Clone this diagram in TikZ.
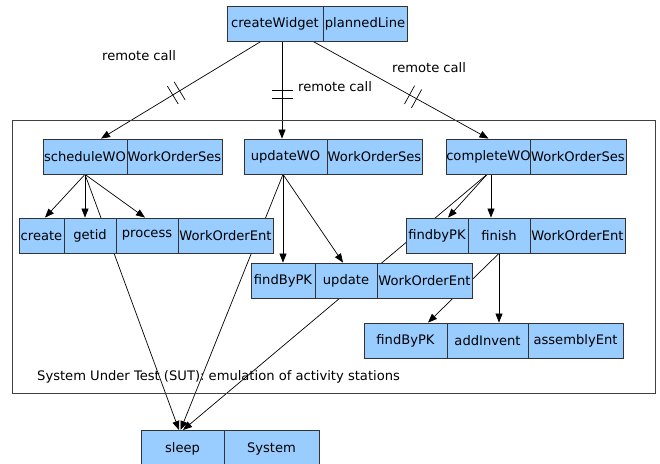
\documentclass[tikz,border=0pt]{standalone}
\usepackage{fontspec}
\setmainfont{DejaVu Sans}
\usetikzlibrary{calc,arrows.meta}
\definecolor{cellblue}{RGB}{153,204,255}
\pgfdeclarelayer{wires}
\pgfsetlayers{wires,main}
% two short strokes across a remote-call line
\newcommand\remoteticks[3]{%
  \coordinate (rt) at ($(#1)!#3!(#2)$);
  \coordinate (rta) at ($(rt)!4pt!(#2)$);
  \coordinate (rtb) at ($(rt)!-4pt!(#2)$);
  \draw[wire] ($(rta)!10.5pt!90:(#2)$) -- ($(rta)!10.5pt!-90:(#2)$);
  \draw[wire] ($(rtb)!10.5pt!90:(#2)$) -- ($(rtb)!10.5pt!-90:(#2)$);}
\begin{document}
\begin{tikzpicture}[x=1pt,y=-1pt,
  font=\fontsize{13.1}{15}\selectfont,
  cell/.style={draw=black!80, fill=cellblue, line width=0.8pt,
    minimum height=35pt, inner sep=0pt, text=black},
  wire/.style={line width=0.7pt, draw=black},
  arr/.style={wire, -{Triangle[length=9pt,width=7pt]}},
  lbl/.style={anchor=west, inner sep=0pt}]
\useasboundingbox (0,0) rectangle (660,463);
\clip (0,0) rectangle (660,463);

% system under test frame
\node[draw=black!75, line width=0.8pt, minimum width=643pt, minimum height=273pt,
  inner sep=0pt, anchor=north west] (sut) at (12,120) {};
\node[lbl] (sutlbl) at (37,377) {System Under Test (SUT): emulation of activity stations};

% caller
\node[cell, minimum width=96pt] (cw) at (275,23.5) {createWidget};
\node[cell, minimum width=84pt] (pl) at (365,23.5) {plannedLine};

% session beans
\node[cell, minimum width=84pt] (swo) at (85,156.5) {scheduleWO};
\node[cell, minimum width=95pt] (sses) at (174.5,156.5) {WorkOrderSes};
\node[cell, minimum width=83pt] (uwo) at (285.5,156.5) {updateWO};
\node[cell, minimum width=95pt] (uses) at (374.5,156.5) {WorkOrderSes};
\node[cell, minimum width=83pt] (cwo) at (488.5,156.5) {completeWO};
\node[cell, minimum width=96pt] (cses) at (578,156.5) {WorkOrderSes};

% entity beans
\node[cell, minimum width=45pt] (create) at (41.5,235.5) {create};
\node[cell, minimum width=52pt] (getid) at (90,235.5) {getid};
\node[cell, minimum width=62pt] (process) at (147,235.5) {process};
\node[cell, minimum width=95pt] (went1) at (225.5,235.5) {WorkOrderEnt};

\node[cell, minimum width=62pt] (fbpk) at (437,235.5) {findbyPK};
\node[cell, minimum width=62pt] (finish) at (499,235.5) {finish};
\node[cell, minimum width=95pt] (went2) at (577.5,235.5) {WorkOrderEnt};

\node[cell, minimum width=64pt] (fpk) at (283,280.5) {findByPK};
\node[cell, minimum width=62pt] (update) at (346,280.5) {update};
\node[cell, minimum width=95pt] (went3) at (424.5,280.5) {WorkOrderEnt};

\node[cell, minimum width=83pt] (fpk2) at (405.5,340.5) {findByPK};
\node[cell, minimum width=81pt] (addinv) at (487.5,340.5) {addInvent};
\node[cell, minimum width=95pt] (asm) at (575.5,340.5) {assemblyEnt};

% system bean
\node[cell, minimum width=83pt, minimum height=40pt, anchor=north] (sleep) at (182.5,430) {};
\node (sleeplbl) at (182.5,449) {sleep};
\node[cell, minimum width=95pt, minimum height=40pt, anchor=north] (system) at (271.5,430) {};
\node (systemlbl) at (271.5,449) {System};

% remote calls
\node[lbl] (rc1) at (102,56) {remote call};
\node[lbl] (rc2) at (298,87) {remote call};
\node[lbl] (rc3) at (392,68) {remote call};

\begin{pgfonlayer}{wires}
  \coordinate (c1) at ([xshift=-14pt]cw.south);
  \coordinate (c2) at ([xshift=7pt]cw.south);
  \coordinate (c3) at ([xshift=38pt]cw.south);
  \coordinate (s1) at ([xshift=16pt]swo.north);
  \coordinate (u1) at ([xshift=7pt]cw.south |- uwo.north);
  \draw[arr] (c1) -- (s1);
  \draw[arr] (c2) -- (u1);
  \draw[arr] (c3) -- (cwo.north);
  \remoteticks{c1}{s1}{0.53}
  \remoteticks{c2}{u1}{0.54}
  \remoteticks{c3}{cwo.north}{0.57}

  % scheduleWO
  \draw[arr] (swo.south) -- ([xshift=3.5pt]create.north);
  \draw[arr] (swo.south) -- ([xshift=-5pt]getid.north);
  \draw[arr] (swo.south) -- ([xshift=-2pt]process.north);
  \draw[arr] (swo.south) -- ([xshift=-3.5pt]sleep.north);

  % updateWO
  \coordinate (uo) at ([xshift=-2.5pt]uwo.south);
  \draw[arr] (uo) -- (uo |- fpk.north);
  \draw[arr] (uo) -- ([xshift=-3pt]update.north);
  \draw[arr] (uo) -- ([xshift=-2pt]sleep.north);

  % completeWO
  \coordinate (co) at ([xshift=-1.5pt]cwo.south);
  \coordinate (co2) at ([xshift=2.5pt]cwo.south);
  \draw[arr] (co) -- ([xshift=11pt]fbpk.north);
  \draw[arr] (co2) -- (co2 |- finish.north);
  \draw[arr] (co) -- ([xshift=0.5pt]sleep.north);

  % finish
  \draw[arr] (finish.south) -- ([xshift=22.5pt]fpk2.north);
  \draw[arr] (finish.south) -- ([xshift=11.5pt]addinv.north);
\end{pgfonlayer}
\end{tikzpicture}
\end{document}
